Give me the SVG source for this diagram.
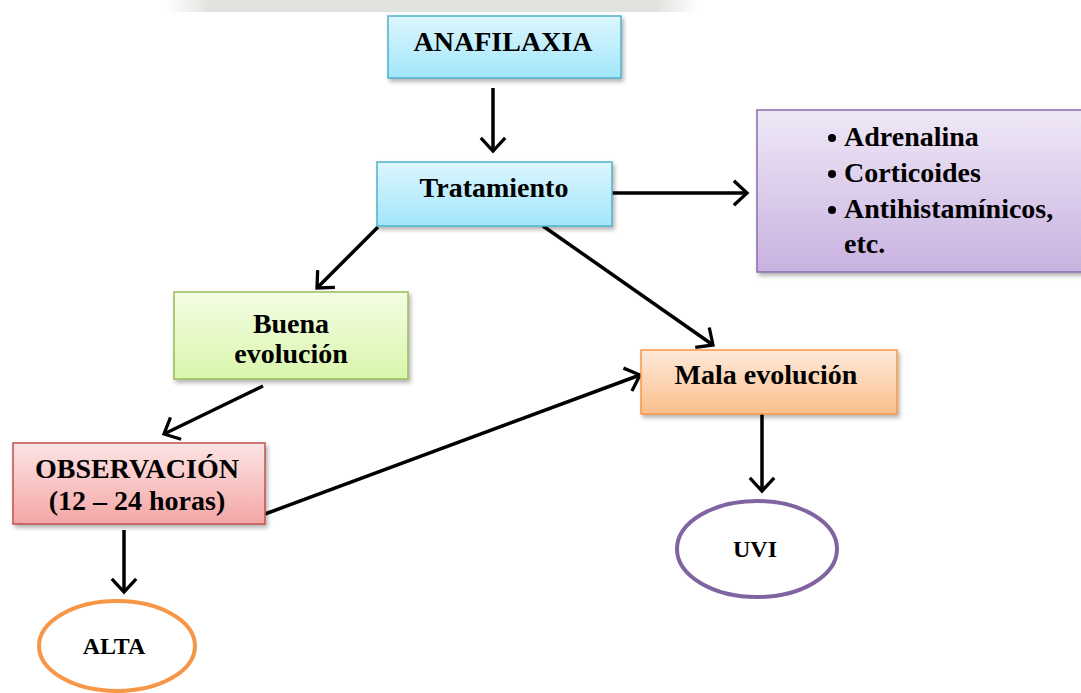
<svg xmlns="http://www.w3.org/2000/svg" width="1081" height="693" viewBox="0 0 1081 693">
<style>
.t{font-family:"Liberation Serif","Times New Roman",serif;font-weight:bold;fill:#000;text-anchor:middle}
.tl{font-family:"Liberation Serif","Times New Roman",serif;font-weight:bold;fill:#000}
.box{stroke-width:1.5}
.conn{stroke:#000;stroke-width:3.5;fill:none}
</style>
<defs>
<linearGradient id="gBlue" x1="0" y1="0" x2="0" y2="1"><stop offset="0" stop-color="#dcf6fd"/><stop offset="1" stop-color="#a3e6fb"/></linearGradient>
<linearGradient id="gPurple" x1="0" y1="0" x2="0" y2="1"><stop offset="0" stop-color="#f0e8f7"/><stop offset="1" stop-color="#c8b2e0"/></linearGradient>
<linearGradient id="gGreen" x1="0" y1="0" x2="0" y2="1"><stop offset="0" stop-color="#f4fde4"/><stop offset="1" stop-color="#d9f6ac"/></linearGradient>
<linearGradient id="gOrange" x1="0" y1="0" x2="0" y2="1"><stop offset="0" stop-color="#fee9da"/><stop offset="1" stop-color="#fbbf8c"/></linearGradient>
<linearGradient id="gRed" x1="0" y1="0" x2="0" y2="1"><stop offset="0" stop-color="#fde4e4"/><stop offset="1" stop-color="#f4a6a6"/></linearGradient>
<linearGradient id="gBand" x1="0" y1="0" x2="1" y2="0"><stop offset="0" stop-color="#e4e7e2" stop-opacity="0"/><stop offset="0.08" stop-color="#e1e4de"/><stop offset="0.92" stop-color="#e1e4de"/><stop offset="1" stop-color="#e4e7e2" stop-opacity="0"/></linearGradient>
<filter id="sh" x="-10%" y="-10%" width="125%" height="135%"><feDropShadow dx="2" dy="3" stdDeviation="2" flood-color="#000" flood-opacity="0.3"/></filter>
<marker id="ah" markerUnits="userSpaceOnUse" markerWidth="24" markerHeight="30" viewBox="-2 -2 18 32" refX="14" refY="14" orient="auto"><path d="M0,1 L14,14 L0,27" fill="none" stroke="#000" stroke-width="3.5"/></marker>
</defs>
<rect width="1081" height="693" fill="#fff"/>
<g id="watermark"><rect x="165" y="0" width="535" height="12" fill="url(#gBand)"/></g>
<g id="connectors">
<line class="conn" x1="493" y1="88" x2="493" y2="151" marker-end="url(#ah)"/>
<line class="conn" x1="612" y1="193" x2="747" y2="193" marker-end="url(#ah)"/>
<line class="conn" x1="378" y1="227" x2="317" y2="288" marker-end="url(#ah)"/>
<line class="conn" x1="543" y1="226" x2="713" y2="345" marker-end="url(#ah)"/>
<line class="conn" x1="263" y1="386" x2="164" y2="434" marker-end="url(#ah)"/>
<line class="conn" x1="265" y1="514" x2="640" y2="375" marker-end="url(#ah)"/>
<line class="conn" x1="124" y1="530" x2="124" y2="592" marker-end="url(#ah)"/>
<line class="conn" x1="762" y1="414" x2="762" y2="491" marker-end="url(#ah)"/>
</g>
<g id="anafilaxia"><rect class="box" x="388" y="16" width="233" height="62" fill="url(#gBlue)" stroke="#4fb1cc" filter="url(#sh)"/><text class="t" x="503" y="51" font-size="28">ANAFILAXIA</text></g>
<g id="tratamiento"><rect class="box" x="377" y="162" width="235" height="64" fill="url(#gBlue)" stroke="#4fb1cc" filter="url(#sh)"/><text class="t" x="494" y="197" font-size="28">Tratamiento</text></g>
<g id="medicamentos"><rect class="box" x="757" y="110" width="330" height="162" fill="url(#gPurple)" stroke="#8a6db0" filter="url(#sh)"/>
<g class="tl" font-size="28"><circle cx="832" cy="138" r="4" fill="#000"/><text x="844" y="146">Adrenalina</text>
<circle cx="832" cy="174" r="4" fill="#000"/><text x="844" y="182">Corticoides</text>
<circle cx="832" cy="210" r="4" fill="#000"/><text x="844" y="218">Antihistamínicos,</text>
<text x="844" y="253">etc.</text></g></g>
<g id="buena"><rect class="box" x="174" y="292" width="234" height="87" fill="url(#gGreen)" stroke="#9bbb59" filter="url(#sh)"/><text class="t" x="291" y="333" font-size="28">Buena</text><text class="t" x="291" y="363" font-size="28">evolución</text></g>
<g id="mala"><rect class="box" x="641" y="350" width="256" height="64" fill="url(#gOrange)" stroke="#f79646" filter="url(#sh)"/><text class="t" x="766" y="384" font-size="28">Mala evolución</text></g>
<g id="observacion"><rect class="box" x="13" y="443" width="252" height="81" fill="url(#gRed)" stroke="#c0504d" filter="url(#sh)"/><text class="t" x="137" y="478" font-size="28">OBSERVACIÓN</text><text class="t" x="137" y="510" font-size="28">(12 – 24 horas)</text></g>
<g id="alta"><ellipse cx="117" cy="646" rx="78" ry="45" fill="#fff" stroke="#f79646" stroke-width="4"/><text class="t" x="114" y="654" font-size="24">ALTA</text></g>
<g id="uvi"><ellipse cx="757" cy="549" rx="80" ry="48" fill="#fff" stroke="#8064a2" stroke-width="4"/><text class="t" x="755" y="557" font-size="24">UVI</text></g>
</svg>
